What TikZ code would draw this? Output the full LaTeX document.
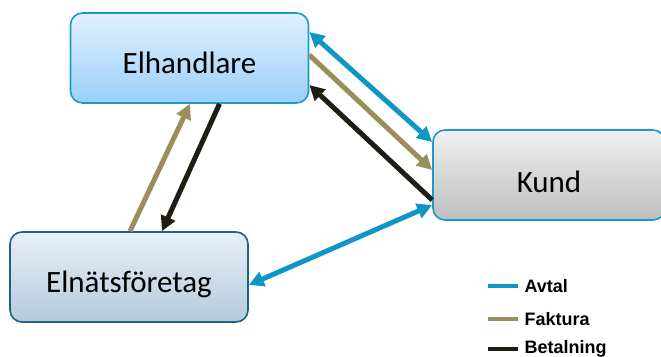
\documentclass[tikz,border=0pt]{standalone}
\usepackage{fontspec}
\setmainfont{Carlito}
\newfontfamily\legendfont{Liberation Sans}
\usetikzlibrary{arrows.meta}

\definecolor{avtal}{HTML}{0E97C5}
\definecolor{faktura}{HTML}{9A8E5A}
\definecolor{betal}{HTML}{201E14}

\tikzset{
  aktor/.style={rounded corners=12pt, minimum width=238pt, minimum height=90pt,
    text height=33pt, text depth=1pt,
    line width=1.6pt, font=\fontsize{31}{34}\selectfont},
  pil/.style={line width=5pt, -{Triangle[length=15pt,width=15pt]}},
  dubbelpil/.style={line width=5pt, {Triangle[length=15pt,width=15pt]}-{Triangle[length=15pt,width=15pt]}},
  forklaring/.style={font=\legendfont\bfseries\fontsize{18}{20}\selectfont, anchor=west}
}

\begin{document}
\begin{tikzpicture}[x=1pt, y=1pt]  % 以像素为单位

    \useasboundingbox (0,0) rectangle (661,356);

    % 三个方框
    \node[aktor, draw={rgb,255:red,26;green,155;blue,201}, top color={rgb,255:red,224;green,240;blue,255},
          bottom color={rgb,255:red,155;green,208;blue,248}] (elh) at (189.5,298) {Elhandlare};
    \node[aktor, minimum width=232pt, text height=36pt, draw={rgb,255:red,26;green,155;blue,201}, top color={rgb,255:red,240;green,240;blue,240},
          bottom color={rgb,255:red,190;green,190;blue,190}] (kund) at (549,181) {Kund};
    \node[aktor, draw={rgb,255:red,26;green,100;blue,130}, top color={rgb,255:red,232;green,239;blue,247},
          bottom color={rgb,255:red,180;green,202;blue,220}] (eln) at (129,79) {Elnätsföretag};

    % Elhandlare -- Kund
    \draw[dubbelpil, avtal] ([yshift=26pt]elh.east) -- ([yshift=33pt]kund.west);
    \draw[pil, faktura] ([yshift=3pt]elh.east) -- ([yshift=5pt]kund.west);
    \draw[pil, betal] ([yshift=-25pt]kund.west) -- ([yshift=-27pt]elh.east);

    % Kund -- Elnätsföretag
    \draw[dubbelpil, avtal] ([yshift=-30pt]kund.west) -- ([yshift=-8pt]eln.east);

    % Elnätsföretag -- Elhandlare
    \draw[pil, faktura] ([xshift=1pt]eln.north) -- ([xshift=0.5pt]elh.south);
    \draw[pil, betal] ([xshift=30pt]elh.south) -- ([xshift=33pt]eln.north);

    % 图例
    \node[forklaring] (avt) at (521,70) {Avtal};
    \node[forklaring] (fak) at (521,37) {Faktura};
    \node[forklaring] (bet) at (521,7) {Betalning};
    \draw[avtal, line width=3.5pt] ([xshift=-3pt]avt.west) -- ++(-30,0);
    \draw[faktura, line width=3.5pt] ([xshift=-3pt]fak.west) -- ++(-30,0);
    \draw[betal, line width=3.5pt] ([xshift=-3pt]bet.west) -- ++(-30,0);

\end{tikzpicture}
\end{document}
